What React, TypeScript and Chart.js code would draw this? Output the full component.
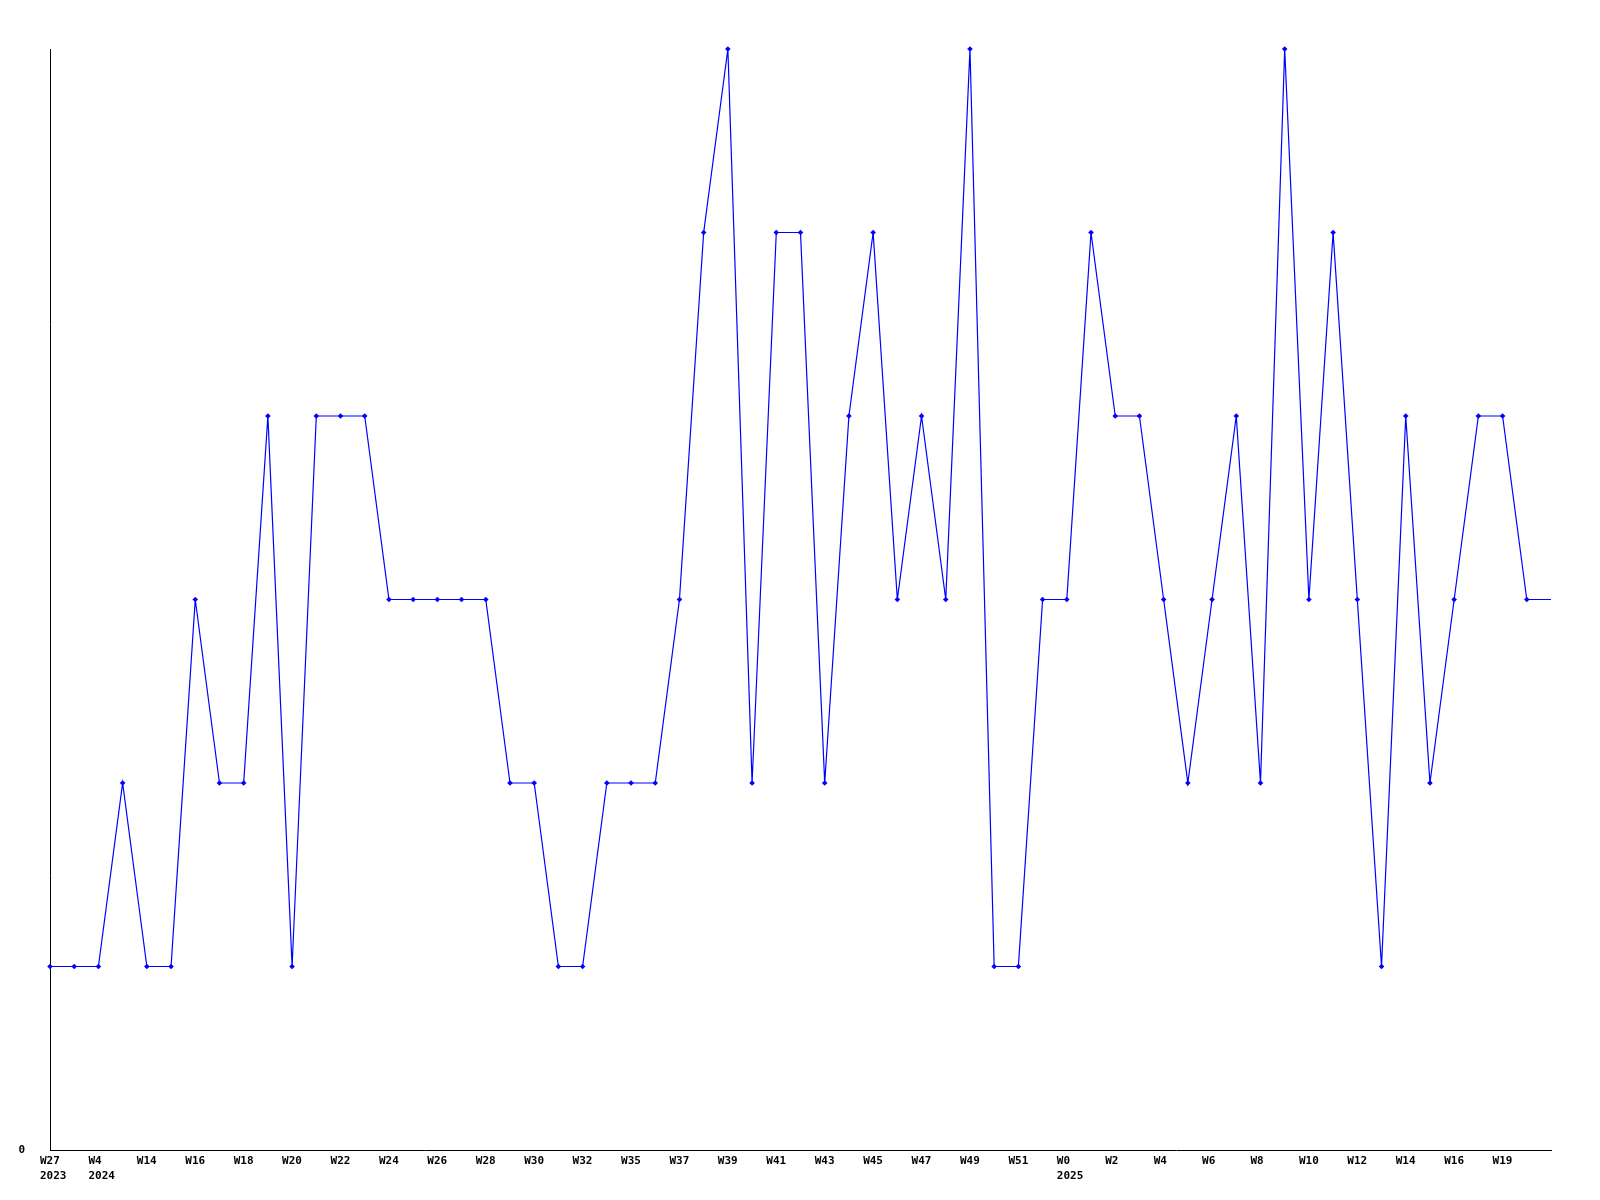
import React, { useEffect, useRef } from "react";
import { Chart, registerables } from "chart.js";

Chart.register(...registerables);

const weeks = [
  "W27", "W28", "W4", "W5", "W14", "W15", "W16", "W17", "W18", "W19",
  "W20", "W21", "W22", "W23", "W24", "W25", "W26", "W27", "W28", "W29",
  "W30", "W31", "W32", "W34", "W35", "W36", "W37", "W38", "W39", "W40",
  "W41", "W42", "W43", "W44", "W45", "W46", "W47", "W48", "W49", "W50",
  "W51", "W52", "W0", "W1", "W2", "W3", "W4", "W5", "W6", "W7",
  "W8", "W9", "W10", "W11", "W12", "W13", "W14", "W15", "W16", "W18",
  "W19", "W20", "W21",
];

const years = [
  "2023", "2023",
  "2024", "2024", "2024", "2024", "2024", "2024", "2024", "2024",
  "2024", "2024", "2024", "2024", "2024", "2024", "2024", "2024", "2024", "2024",
  "2024", "2024", "2024", "2024", "2024", "2024", "2024", "2024", "2024", "2024",
  "2024", "2024", "2024", "2024", "2024", "2024", "2024", "2024", "2024", "2024",
  "2024", "2024",
  "2025", "2025", "2025", "2025", "2025", "2025", "2025", "2025",
  "2025", "2025", "2025", "2025", "2025", "2025", "2025", "2025", "2025", "2025",
  "2025", "2025", "2025",
];

const counts = [
  1, 1, 1, 2, 1, 1, 3, 2, 2, 4,
  1, 4, 4, 4, 3, 3, 3, 3, 3, 2,
  2, 1, 1, 2, 2, 2, 3, 5, 6, 2,
  5, 5, 2, 4, 5, 3, 4, 3, 6, 1,
  1, 3, 3, 5, 4, 4, 3, 2, 3, 4,
  2, 6, 3, 5, 3, 1, 4, 2, 3, 4,
  4, 3, 3,
];

const yTickLabels = ["0"];

export default function App() {
  const canvasRef = useRef<HTMLCanvasElement | null>(null);

  useEffect(() => {
    const canvas = canvasRef.current;
    if (!canvas) return;
    const font = { family: "'DejaVu Sans Mono', monospace", size: 11, weight: "bold" as const, lineHeight: 1.36 };
    const last = counts.length - 1;
    const chart = new Chart(canvas, {
      type: "line",
      data: {
        labels: weeks,
        datasets: [
          {
            data: counts,
            borderColor: "#0000ff",
            backgroundColor: "#0000ff",
            borderWidth: 1.2,
            tension: 0,
            pointStyle: "rectRot",
            pointRadius: (ctx: any) => (ctx.dataIndex === last ? 0 : 2.8),
            pointBorderWidth: 0,
            pointBackgroundColor: "#0000ff",
            clip: false as any,
          },
        ],
      },
      options: {
        responsive: false,
        animation: false,
        layout: { padding: { top: 49, right: 49, left: 0, bottom: 0 } },
        plugins: {
          legend: { display: false },
          tooltip: { enabled: false },
        },
        scales: {
          x: {
            offset: false,
            grid: { display: false, drawTicks: false },
            border: { display: true, color: "#000000", width: 1 },
            afterFit: (s: any) => {
              s.height = 50;
            },
            ticks: {
              autoSkip: false,
              maxRotation: 0,
              minRotation: 0,
              align: "start",
              labelOffset: -10,
              padding: 4,
              color: "#000000",
              font,
              callback: (_v: any, i: number) => {
                if (i % 2 !== 0 || i === last) return "";
                const yr = i === 0 || years[i] !== years[i - 1] ? years[i] : null;
                return yr ? [weeks[i], yr] : weeks[i];
              },
            },
          },
          y: {
            min: 0,
            max: 6,
            grid: { display: false, drawTicks: false },
            border: { display: true, color: "#000000", width: 1 },
            afterFit: (s: any) => {
              s.width = 50;
            },
            ticks: {
              stepSize: 6,
              padding: 25,
              color: "#000000",
              font,
              callback: (v: any) => (v === 0 ? yTickLabels[0] : ""),
            },
          },
        },
      },
    });
    return () => chart.destroy();
  }, []);

  return (
    <div style={{ position: "fixed", left: 0, top: 0, width: 1600, height: 1200, background: "#ffffff" }}>
      <canvas ref={canvasRef} width={1600} height={1200} style={{ width: 1600, height: 1200 }} />
    </div>
  );
}
